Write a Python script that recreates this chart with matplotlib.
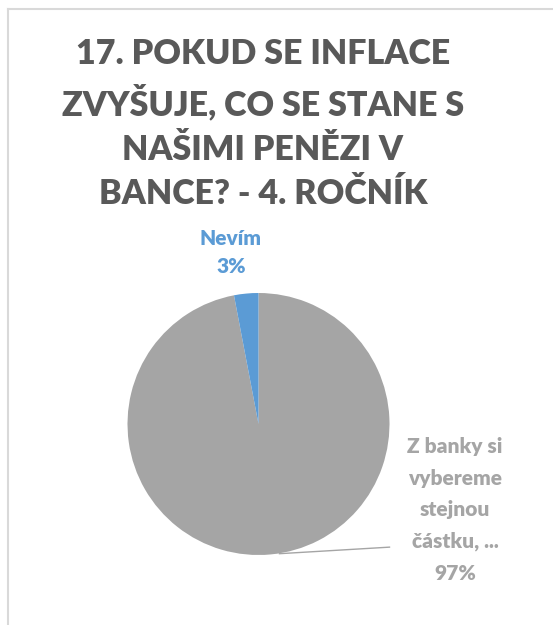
import matplotlib
matplotlib.use("Agg")
import matplotlib.pyplot as plt
from matplotlib.lines import Line2D

categories = ["Z banky si\nvybereme\nstejnou\nčástku, ...", "Nevím"]
values = [97, 3]
colors = ["#a5a5a5", "#5b9bd5"]
title = "17. POKUD SE INFLACE\nZVYŠUJE, CO SE STANE S\nNAŠIMI PENĚZI V\nBANCE? - 4. ROČNÍK"

W, H = 553, 625
fig = plt.figure(figsize=(W / 100, H / 100), dpi=100)
fig.patch.set_facecolor("white")

# chart border (left and top visible)
fig.add_artist(Line2D([7.5 / W, 7.5 / W], [0, 1 - 8.5 / H], transform=fig.transFigure, color="#d9d9d9", lw=1.5))
fig.add_artist(Line2D([7.5 / W, 1], [1 - 8.5 / H, 1 - 8.5 / H], transform=fig.transFigure, color="#d9d9d9", lw=1.5))

cx, cy, r = 258.5, 424, 131
ax = fig.add_axes([(cx - r) / W, (H - cy - r) / H, 2 * r / W, 2 * r / H])
wedges, _ = ax.pie(values, colors=colors, startangle=90, counterclock=False, radius=1,
                   wedgeprops=dict(linewidth=0))
ax.set_xlim(-1, 1)
ax.set_ylim(-1, 1)
ax.set_aspect("equal")
ax.axis("off")

font = "Lato"
fig.text(263 / W, 1 - 124 / H, title, ha="center", va="center", fontsize=24.5,
         fontweight="heavy", color="#595959", family=font, linespacing=1.48)

ax.text(-0.21, 1.31, f"{categories[1]}\n{values[1]}%", ha="center", va="center",
        fontsize=15, fontweight="heavy", color=colors[1], family=font, linespacing=1.56, clip_on=False)
ax.text(1.50, -0.656, f"{categories[0]}\n{values[0]}%", ha="center", va="center",
        fontsize=15, fontweight="heavy", color=colors[0], family=font, linespacing=1.78, clip_on=False)
ax.plot([1.0, 0.16], [-0.94, -0.99], color="#a5a5a5", lw=1, clip_on=False)

fig.savefig("out.png", dpi=100)
